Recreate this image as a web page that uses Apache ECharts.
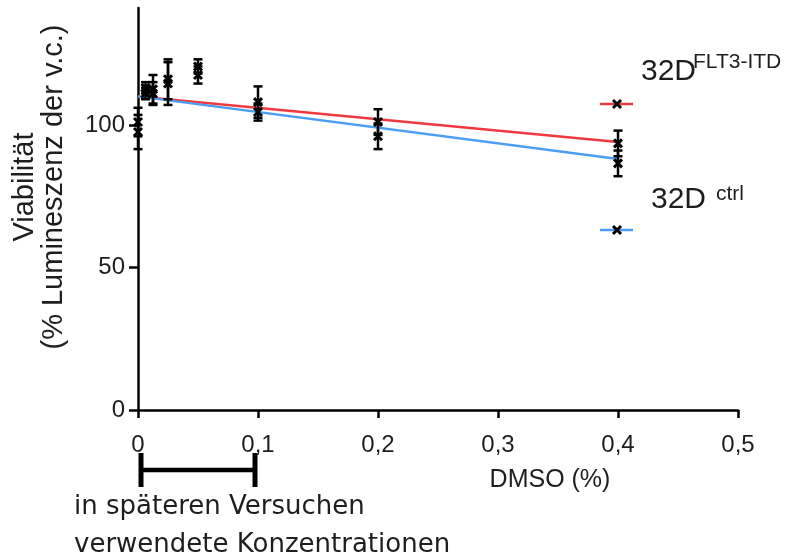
<!DOCTYPE html>
<html>
<head>
<meta charset="utf-8">
<script src="https://cdn.jsdelivr.net/npm/echarts@6/dist/echarts.min.js"></script>
<style>
  html, body { margin: 0; padding: 0; background: #fff; }
  #chart { width: 790px; height: 554px; }
</style>
</head>
<body>
<div id="chart"></div>
<script>
// DMSO concentrations (%)
const conc = [0, 0.00625, 0.0125, 0.025, 0.05, 0.1, 0.2, 0.4]
// 32D FLT3-ITD: mean and SD
const itdMean = [101, 113, 112.5, 116, 120.5, 108, 101, 93.5]
const itdSd = [5, 2, 5, 7, 2.5, 5.5, 4.5, 4.5]
// 32D ctrl: mean and SD
const ctrlMean = [97.5, 111, 111, 114.5, 117.5, 104.5, 96, 86.5]
const ctrlSd = [6, 2, 4, 7.5, 3, 3, 4.5, 4.5]
// linear fits, read at the ends
const fitX = [0, 0.4]
const itdFit = [110, 94]
const ctrlFit = [110, 88]
// bracket for concentrations used later
const usedRange = [0, 0.1]

const xTicks = [0, 0.1, 0.2, 0.3, 0.4, 0.5]
const yTicks = [0, 50, 100]

const FONT = 'Liberation Sans, Arial, sans-serif'
const WIDE = 'DejaVu Sans, sans-serif'
const RED = '#f0393f'
const BLUE = '#4b9ef5'

const chart = echarts.init(document.getElementById('chart'), null, { renderer: 'canvas' })

function pairs(xs, ys) {
  return xs.map((x, i) => [x, ys[i]])
}

function errData(mean, sd) {
  return conc.map((c, i) => [c, mean[i], sd[i]])
}

function cross(x, y, r) {
  const st = { stroke: '#000', lineWidth: 3 }
  return [
    { type: 'line', shape: { x1: x - r, y1: y - r, x2: x + r, y2: y + r }, style: st },
    { type: 'line', shape: { x1: x - r, y1: y + r, x2: x + r, y2: y - r }, style: st }
  ]
}

function renderErr(params, api) {
  const x = api.value(0)
  const m = api.value(1)
  const s = api.value(2)
  const p = api.coord([x, m])
  const hi = api.coord([x, m + s])
  const lo = api.coord([x, m - s])
  const cw = 4.5
  const st = { stroke: '#000', lineWidth: 2.5 }
  return {
    type: 'group',
    children: [
      { type: 'line', shape: { x1: p[0], y1: hi[1], x2: p[0], y2: lo[1] }, style: st },
      { type: 'line', shape: { x1: p[0] - cw, y1: hi[1], x2: p[0] + cw, y2: hi[1] }, style: st },
      { type: 'line', shape: { x1: p[0] - cw, y1: lo[1], x2: p[0] + cw, y2: lo[1] }, style: st },
      ...cross(p[0], p[1], 4)
    ]
  }
}

function renderBracket(params, api) {
  const a = api.coord([api.value(0), 0])
  const b = api.coord([api.value(1), 0])
  const y = a[1] + 60
  const x1 = a[0] + 3
  const x2 = b[0] - 3
  const st = { stroke: '#000', lineWidth: 5 }
  return {
    type: 'group',
    children: [
      { type: 'line', shape: { x1: x1, y1: y, x2: x2, y2: y }, style: { stroke: '#000', lineWidth: 4.5 } },
      { type: 'line', shape: { x1: x1, y1: y - 17, x2: x1, y2: y + 17 }, style: st },
      { type: 'line', shape: { x1: x2, y1: y - 17, x2: x2, y2: y + 17 }, style: st }
    ]
  }
}

function legendItem(y, color) {
  return [
    { type: 'line', shape: { x1: 600, y1: y, x2: 633, y2: y }, style: { stroke: color, lineWidth: 2.5 } },
    ...cross(617, y, 4)
  ]
}

const option = {
  animation: false,
  backgroundColor: '#fff',
  textStyle: { fontFamily: FONT },
  grid: { left: 138, right: 52, top: 8, bottom: 144, containLabel: false },
  xAxis: {
    type: 'value',
    min: 0,
    max: 0.5,
    interval: 0.1,
    splitLine: { show: false },
    axisLine: { onZero: false, lineStyle: { color: '#000', width: 2.5 } },
    axisTick: { show: true, length: 8, lineStyle: { color: '#000', width: 2.5 }, customValues: xTicks },
    axisLabel: {
      customValues: xTicks,
      margin: 23,
      fontSize: 24,
      color: '#1e1e1e',
      fontFamily: FONT,
      formatter: v => String(+v.toFixed(1)).replace('.', ',')
    }
  },
  yAxis: {
    type: 'value',
    min: 0,
    max: 141,
    interval: 50,
    splitLine: { show: false },
    axisLine: { onZero: false, lineStyle: { color: '#000', width: 2.5 } },
    axisTick: { show: true, length: 9, lineStyle: { color: '#000', width: 2.5 }, customValues: yTicks },
    axisLabel: {
      customValues: yTicks,
      margin: 13,
      fontSize: 24,
      color: '#1e1e1e',
      fontFamily: FONT
    }
  },
  series: [
    {
      type: 'line',
      data: pairs(fitX, itdFit),
      symbol: 'none',
      lineStyle: { color: RED, width: 2.5 },
      z: 2
    },
    {
      type: 'line',
      data: pairs(fitX, ctrlFit),
      symbol: 'none',
      lineStyle: { color: BLUE, width: 2.5 },
      z: 2
    },
    {
      type: 'custom',
      data: errData(ctrlMean, ctrlSd),
      renderItem: renderErr,
      clip: false,
      z: 3
    },
    {
      type: 'custom',
      data: errData(itdMean, itdSd),
      renderItem: renderErr,
      clip: false,
      z: 3
    },
    {
      type: 'custom',
      data: [usedRange],
      renderItem: renderBracket,
      clip: false,
      z: 3
    }
  ],
  graphic: [
    {
      type: 'text',
      x: 39,
      y: 187,
      rotation: Math.PI / 2,
      style: {
        text: 'Viabilität\n(% Lumineszenz der v.c.)',
        font: '29px ' + FONT,
        fill: '#1e1e1e',
        align: 'center',
        verticalAlign: 'middle',
        lineHeight: 29
      }
    },
    {
      type: 'text',
      x: 550,
      y: 480,
      style: { text: 'DMSO (%)', font: '25px ' + FONT, fill: '#1e1e1e', align: 'center', verticalAlign: 'middle' }
    },
    {
      type: 'text',
      x: 74,
      y: 488,
      style: {
        text: 'in späteren Versuchen\nverwendete Konzentrationen',
        font: '26px ' + WIDE,
        fill: '#1e1e1e',
        align: 'left',
        verticalAlign: 'top',
        lineHeight: 38
      }
    },
    ...legendItem(104, RED),
    ...legendItem(230, BLUE),
    {
      type: 'text', x: 641, y: 72,
      style: { text: '32D', font: '30px ' + FONT, fill: '#1e1e1e', align: 'left', verticalAlign: 'middle' }
    },
    {
      type: 'text', x: 693, y: 62,
      style: { text: 'FLT3-ITD', font: '21px ' + FONT, fill: '#1e1e1e', align: 'left', verticalAlign: 'middle' }
    },
    {
      type: 'text', x: 651, y: 200,
      style: { text: '32D', font: '30px ' + FONT, fill: '#1e1e1e', align: 'left', verticalAlign: 'middle' }
    },
    {
      type: 'text', x: 716, y: 194,
      style: { text: 'ctrl', font: '21px ' + FONT, fill: '#1e1e1e', align: 'left', verticalAlign: 'middle' }
    }
  ]
}

chart.setOption(option)
</script>
</body>
</html>
